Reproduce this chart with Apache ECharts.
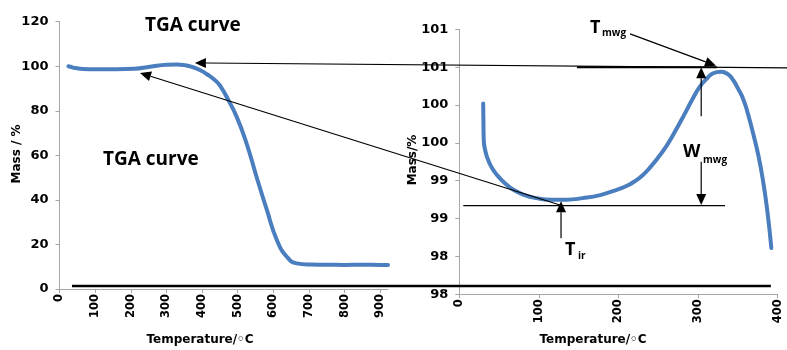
<!DOCTYPE html>
<html>
<head>
<meta charset="utf-8">
<script src="https://cdn.jsdelivr.net/npm/echarts@6/dist/echarts.min.js"></script>
<style>
  html, body { margin: 0; background: #fff; }
  #chart { width: 787px; height: 350px; }
</style>
</head>
<body>
<div id="chart"></div>
<script>
// Full TGA run: [temperature °C, mass %]
const tgaFull = [
  [25, 100], [30, 99.8], [45, 99.2], [67, 98.8], [100, 98.7], [160, 98.7],
  [210, 98.9], [254, 99.8], [301, 100.7], [330, 100.8], [350, 100.5],
  [372, 99.7], [394, 98.3], [415, 96.3], [441, 93.1], [455, 90.2], [469, 86.3],
  [497, 77.4], [525, 65.4], [553, 50.4], [582, 35.5], [610, 22],
  [638, 14.5], [666, 11.5], [703, 11.0], [750, 10.9], [800, 10.8],
  [850, 10.9], [900, 10.8], [922, 10.8]
];

// Zoom on the mass-gain region: [temperature °C, mass %]
const tgaZoom = [
  [30, 100.52], [30.3, 100.3], [30.7, 100.04], [33, 99.88], [36.4, 99.77],
  [41, 99.67], [47, 99.58], [57, 99.47], [68, 99.38], [82, 99.31],
  [97, 99.27], [115, 99.25], [135, 99.25], [155, 99.27], [177, 99.31],
  [195, 99.37], [210, 99.43], [220, 99.49], [230, 99.57], [240, 99.68],
  [250, 99.81], [261, 99.97], [271, 100.15], [282, 100.36], [292, 100.56],
  [302, 100.74], [311, 100.85], [319, 100.92], [329, 100.94], [337, 100.91],
  [344, 100.83], [350, 100.72], [357, 100.57], [363, 100.37], [369, 100.13],
  [376, 99.82], [382, 99.47], [387, 99.1], [392, 98.61]
];

const fullYTicks = { min: 0, max: 120, interval: 20 };
const fullXTicks = { min: 0, max: 922, interval: 100 };
const zoomYTicks = { min: 98, max: 101.5, interval: 0.5 };
const zoomXTicks = { min: 0, max: 400, interval: 100 };

const curveColor = '#4a7ebf';
const axisGray = '#a6a6a6';
const labelFont = 'DejaVu Sans';

function valueAxis(grid, ticks, extra) {
    return Object.assign({
        type: 'value',
        gridIndex: grid,
        min: ticks.min,
        max: ticks.max,
        interval: ticks.interval,
        splitLine: { show: false },
        axisLine: { show: true, lineStyle: { color: axisGray, width: 1 } },
        axisTick: { show: true, length: 4, lineStyle: { color: axisGray } }
    }, extra);
}

const xLabel = {
    rotate: 90, margin: 5, color: '#000', fontFamily: labelFont,
    fontWeight: 'bold', fontSize: 11.5, showMaxLabel: false
};
const yLabel = {
    margin: 11, color: '#000', fontFamily: labelFont,
    fontWeight: 'bold', fontSize: 13
};

const chart = echarts.init(document.getElementById('chart'));

const curveStyle = { color: curveColor, width: 4, cap: 'round', join: 'round' };

chart.setOption({
    animation: false,
    grid: [
        { left: 59.5, top: 21.7, width: 328.5, height: 267.3 },
        { left: 459.3, top: 29.3, width: 318.4, height: 265 }
    ],
    xAxis: [
        valueAxis(0, fullXTicks, { axisLabel: xLabel }),
        valueAxis(1, zoomXTicks, { axisLabel: Object.assign({}, xLabel, { showMaxLabel: true }) })
    ],
    yAxis: [
        valueAxis(0, fullYTicks, { axisLabel: yLabel }),
        valueAxis(1, zoomYTicks, {
            axisLabel: Object.assign({}, yLabel, { formatter: v => String(Math.floor(v)) })
        })
    ],
    series: [
        {
            type: 'line', xAxisIndex: 0, yAxisIndex: 0, data: tgaFull,
            smooth: 0.5, showSymbol: false, clip: false,
            lineStyle: curveStyle
        },
        {
            type: 'line', xAxisIndex: 1, yAxisIndex: 1, data: tgaZoom,
            smooth: 0.5, showSymbol: false, clip: false,
            lineStyle: curveStyle
        }
    ]
});

// annotation helpers -------------------------------------------------------
function px(grid, pt) {
    return chart.convertToPixel({ xAxisIndex: grid, yAxisIndex: grid }, pt);
}

function seg(a, b, w) {
    return {
        type: 'line', z: 10,
        shape: { x1: a[0], y1: a[1], x2: b[0], y2: b[1] },
        style: { stroke: '#000', lineWidth: w || 1 }
    };
}

// line from a to b with filled head at b
function arrow(a, b) {
    const dx = b[0] - a[0], dy = b[1] - a[1];
    const len = Math.sqrt(dx * dx + dy * dy);
    const ux = dx / len, uy = dy / len;
    const hl = 11, hw = 5;
    const bx = b[0] - ux * hl, by = b[1] - uy * hl;
    return [
        seg(a, [bx, by], 1.2),
        {
            type: 'polygon', z: 11,
            shape: { points: [b, [bx - uy * hw, by + ux * hw], [bx + uy * hw, by - ux * hw]] },
            style: { fill: '#000' }
        }
    ];
}

function text(str, x, y, size, opts) {
    return Object.assign({
        type: 'text', z: 12, x: x, y: y,
        style: Object.assign({
            text: str, fill: '#000', fontFamily: 'Open Sans',
            fontWeight: 'bold', fontSize: size, verticalAlign: 'middle'
        }, (opts && opts.style) || {})
    }, (opts && opts.el) || {});
}

const g = [];
// long arrows back to the full curve
g.push(...arrow(px(1, [411.7, 100.99]), px(0, [380, 101.5])));
g.push(...arrow(px(1, [126.5, 99.18]), px(0, [226, 97.0])));
// reference levels
g.push(seg(px(1, [147.8, 101.0]), px(1, [323.6, 101.0]), 2));
g.push(seg(px(1, [5, 99.17]), px(1, [333.8, 99.17]), 1.2));
// T_mwg pointer
g.push(...arrow(px(1, [214.5, 101.44]), px(1, [322.5, 101.02])));
// W_mwg double arrow
g.push(...arrow(px(1, [303.9, 100.35]), px(1, [303.9, 101.0])));
g.push(...arrow(px(1, [303.9, 99.75]), px(1, [303.9, 99.18])));
// T_ir pointer
g.push(...arrow(px(1, [127.8, 98.74]), px(1, [127.8, 99.23])));
// baseline across both panels
g.push(seg(px(0, [35, 1.35]), px(1, [391.4, 98.11]), 2.5));

// labels
g.push(text('TGA curve', 145, 26, 19));
g.push(text('TGA curve', 103, 160, 19));
g.push(text('T', 590, 28, 18));
g.push(text('mwg', 602, 33, 10));
g.push(text('W', 683, 152, 18));
g.push(text('mwg', 703, 160, 10));
g.push(text('T', 565, 250, 18));
g.push(text('ir', 578, 256, 10));

// axis titles
const axisTitle = { fontFamily: labelFont, fontSize: 12, align: 'center' };
g.push(text('Temperature/◦C', 200, 340, 12, { style: axisTitle }));
g.push(text('Temperature/◦C', 593, 340, 12, { style: axisTitle }));
g.push(text('Mass / %', 17, 154, 12, { style: axisTitle, el: { rotation: Math.PI / 2 } }));
g.push(text('Mass/%', 413, 160, 12, { style: axisTitle, el: { rotation: Math.PI / 2 } }));

chart.setOption({ graphic: g });
</script>
</body>
</html>
